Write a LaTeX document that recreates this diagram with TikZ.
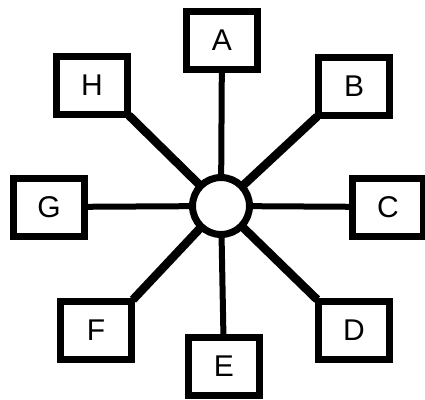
\documentclass[tikz,border=0pt]{standalone}
\usepackage{fontspec}
\setmainfont{Liberation Sans}
\usetikzlibrary{backgrounds}
\tikzset{
  hub/.style  ={circle,draw,fill=white,line width=7pt,
                minimum size=57pt,inner sep=0pt},
  leaf/.style ={draw,fill=white,line width=7pt,minimum width=71pt,
                minimum height=58pt,inner sep=0pt,
                font=\fontsize{30}{30}\selectfont},
  spoke/.style={line width=6pt},
  diag/.style ={line width=8.5pt,shorten >=-3pt},
}

\begin{document}
\begin{tikzpicture}[x=1pt,y=-1pt]
\useasboundingbox (0,0) rectangle (425,399);
\node[hub] (O) at (221,206) {};
\node[leaf] (A) at (222,40) {A};
\node[leaf] (B) at (354,86) {B};
\node[leaf] (C) at (388,207) {C};
\node[leaf] (D) at (354,330) {D};
\node[leaf] (E) at (224,366) {E};
\node[leaf] (F) at (96,330) {F};
\node[leaf] (G) at (49,207) {G};
\node[leaf] (H) at (92,85) {H};
\begin{scope}[on background layer]
\draw[spoke] (O.center) -- (A.center); \draw[spoke] (O.center) -- (E.center);
\draw[spoke] (O.center) -- (C.center); \draw[spoke] (O.center) -- (G.center);
\draw[diag] (O.center) -- (B.south west); \draw[diag] (O.center) -- (D.north west);
\draw[diag] (O.center) -- (F.north east); \draw[diag] (O.center) -- (H.south east);
\end{scope}
\end{tikzpicture}
\end{document}
